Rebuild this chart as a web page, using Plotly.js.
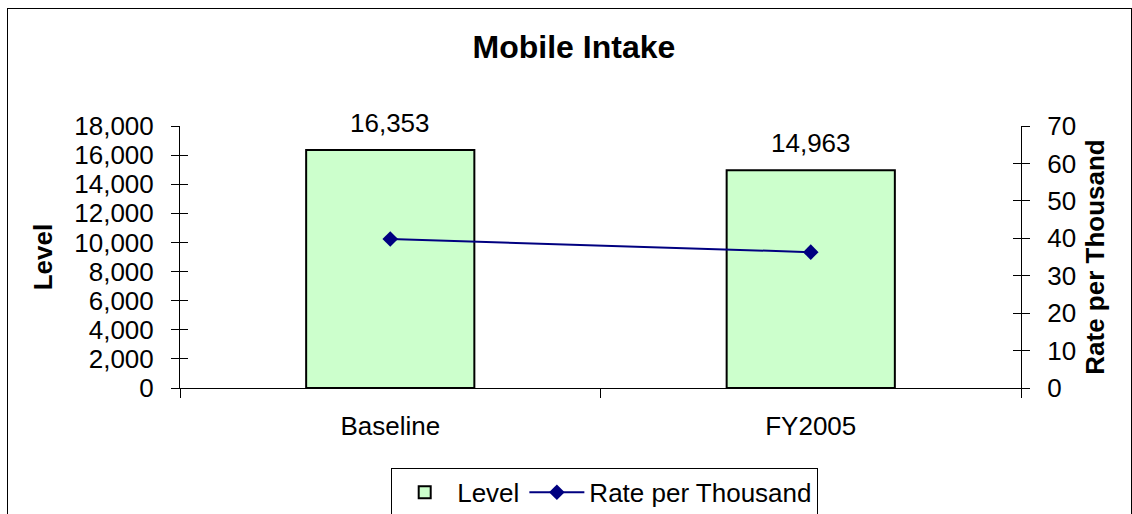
<!DOCTYPE html>
<html>
<head>
<meta charset="utf-8">
<script src="https://cdn.plot.ly/plotly-3.0.1.min.js"></script>
<style>
  html, body { margin: 0; padding: 0; background: #fff; }
  #chart { position: absolute; left: 0; top: 0; width: 1132px; height: 514px; }
  #frame { position: absolute; left: 7px; top: 8px; width: 1123px; height: 520px;
           border: 1px solid #000; pointer-events: none; }
</style>
</head>
<body>
<div id="chart"></div>
<div id="frame"></div>
<script>
// Mobile Intake chart data
const categories = ['Baseline', 'FY2005'];
const levelValues = [16353, 14963];
const ratePerThousand = [39.8, 36.3];

const FONT = 'Liberation Sans, Arial, sans-serif';

function createIntakeChart() {
    const levelTrace = {
        x: categories,
        y: levelValues,
        type: 'bar',
        name: 'Level',
        marker: { color: '#ccffcc', line: { color: '#000000', width: 2 } },
        hoverinfo: 'skip'
    };

    const rateTrace = {
        x: categories,
        y: ratePerThousand,
        type: 'scatter',
        mode: 'lines+markers',
        name: 'Rate per Thousand',
        yaxis: 'y2',
        line: { color: '#000080', width: 2 },
        marker: { symbol: 'diamond', size: 12, color: '#000080' },
        hoverinfo: 'skip'
    };

    // empty traces so the overlay axes (inner halves of the crossing ticks) get drawn
    const tickLeft = { x: [], y: [], type: 'scatter', yaxis: 'y3', showlegend: false };
    const tickRight = { x: [], y: [], type: 'scatter', yaxis: 'y4', showlegend: false };

    // value labels above the bars
    const annotations = categories.map((c, i) => ({
        x: c,
        y: levelValues[i],
        xref: 'x',
        yref: 'y',
        text: levelValues[i].toLocaleString('en-US'),
        showarrow: false,
        yanchor: 'bottom',
        yshift: 10,
        font: { family: FONT, size: 26, color: '#000' }
    }));

    const layout = {
        width: 1132,
        height: 514,
        margin: { l: 180, r: 111, t: 126, b: 126, autoexpand: false },
        paper_bgcolor: 'rgba(0,0,0,0)',
        plot_bgcolor: 'rgba(0,0,0,0)',
        font: { family: FONT, size: 26, color: '#000' },
        bargap: 0.6,
        title: {
            text: '<b>Mobile Intake</b>',
            font: { family: FONT, size: 32, color: '#000' },
            xref: 'container',
            yref: 'container',
            x: 0.507,
            xanchor: 'center',
            y: 0.908,
            yanchor: 'middle'
        },
        showlegend: true,
        legend: {
            orientation: 'h',
            x: 0.505,
            xanchor: 'center',
            y: -0.305,
            yanchor: 'top',
            bgcolor: '#ffffff',
            bordercolor: '#000000',
            borderwidth: 1,
            itemwidth: 55,
            font: { family: FONT, size: 26, color: '#000' },
            traceorder: 'normal'
        },
        xaxis: {
            type: 'category',
            range: [-0.5, 1.5],
            tickson: 'boundaries',
            ticks: 'outside',
            ticklen: 9,
            tickcolor: '#000',
            showline: true,
            linecolor: '#000',
            linewidth: 1,
            showgrid: false,
            zeroline: false,
            automargin: false,
            ticklabelstandoff: 15,
            tickfont: { family: FONT, size: 26 }
        },
        yaxis: {
            title: { text: '<b>Level</b>', font: { family: FONT, size: 26 }, standoff: 14 },
            range: [0, 18000],
            dtick: 2000,
            tickformat: ',d',
            ticks: 'outside',
            ticklen: 8,
            tickcolor: '#000',
            showline: true,
            linecolor: '#000',
            linewidth: 1,
            showgrid: false,
            zeroline: false,
            automargin: false,
            ticklabelstandoff: 12,
            tickfont: { family: FONT, size: 26 }
        },
        yaxis2: {
            title: { text: '<b>Rate per Thousand</b>', font: { family: FONT, size: 26 }, standoff: 10 },
            overlaying: 'y',
            side: 'right',
            anchor: 'x',
            range: [0, 70],
            dtick: 10,
            ticks: 'outside',
            ticklen: 8,
            tickcolor: '#000',
            showline: true,
            linecolor: '#000',
            linewidth: 1,
            showgrid: false,
            zeroline: false,
            automargin: false,
            ticklabelstandoff: 12,
            tickfont: { family: FONT, size: 26 }
        },
        yaxis3: {
            overlaying: 'y',
            side: 'left',
            anchor: 'x',
            range: [0, 18000],
            dtick: 2000,
            ticks: 'inside',
            ticklen: 8,
            tickcolor: '#000',
            showticklabels: false,
            showline: false,
            showgrid: false,
            zeroline: false
        },
        yaxis4: {
            overlaying: 'y',
            side: 'right',
            anchor: 'x',
            range: [0, 70],
            dtick: 10,
            ticks: 'inside',
            ticklen: 8,
            tickcolor: '#000',
            showticklabels: false,
            showline: false,
            showgrid: false,
            zeroline: false
        },
        annotations: annotations
    };

    Plotly.newPlot('chart', [levelTrace, rateTrace, tickLeft, tickRight], layout, { displayModeBar: false, staticPlot: true });
}

createIntakeChart();
</script>
</body>
</html>
